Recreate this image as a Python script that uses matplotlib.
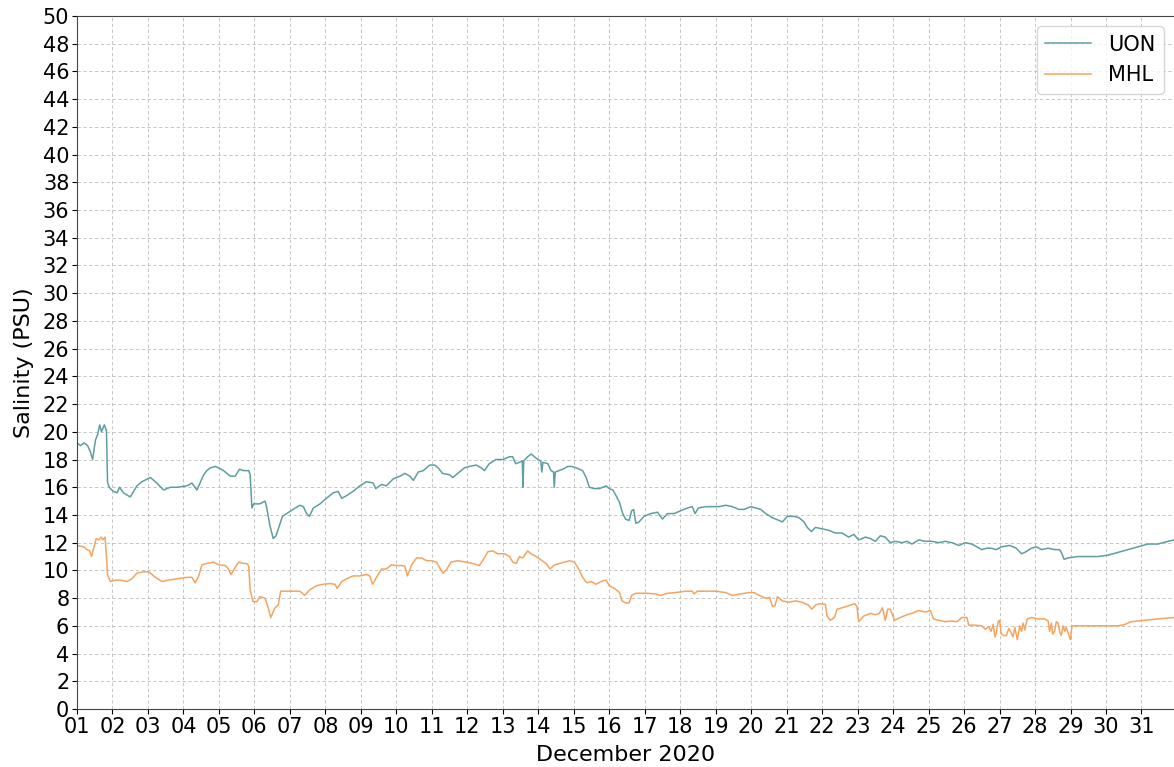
import numpy as np
import pandas as pd
import matplotlib
matplotlib.use('Agg')
import matplotlib.pyplot as plt
import matplotlib.dates as mdates

# Salinity records, time in days since 2020-12-01 00:00
UON_DAYS = [
    0.00, 0.10, 0.20, 0.30, 0.37, 0.44, 0.52, 0.58, 0.64, 0.69, 0.77, 0.83, 0.86, 0.89, 0.94,
    1.03, 1.13, 1.20, 1.31, 1.50, 1.69, 1.83, 2.07, 2.25, 2.44, 2.63, 2.82, 3.10, 3.24, 3.38,
    3.57, 3.66, 3.76, 3.90, 3.99, 4.13, 4.32, 4.46, 4.58, 4.69, 4.84, 4.88, 4.93, 4.98, 5.15,
    5.30, 5.34, 5.44, 5.53, 5.61, 5.70, 5.79, 5.91, 6.09, 6.28, 6.38, 6.47, 6.55, 6.66, 6.85,
    7.03, 7.22, 7.36, 7.46, 7.60, 7.78, 7.97, 8.16, 8.35, 8.42, 8.58, 8.72, 8.91, 9.10, 9.24,
    9.38, 9.48, 9.62, 9.76, 9.94, 10.08, 10.18, 10.30, 10.50, 10.59, 10.73, 10.92, 11.06, 11.25, 11.39,
    11.48, 11.62, 11.81, 12.00, 12.19, 12.28, 12.36, 12.47, 12.55, 12.57, 12.59, 12.70, 12.80, 12.89, 12.99,
    13.07, 13.10, 13.13, 13.27, 13.36, 13.43, 13.45, 13.48, 13.69, 13.83, 13.95, 14.07, 14.25, 14.35, 14.44,
    14.58, 14.72, 14.82, 14.91, 15.00, 15.10, 15.19, 15.29, 15.38, 15.46, 15.56, 15.63, 15.69, 15.75, 15.84,
    15.98, 16.17, 16.36, 16.50, 16.64, 16.83, 17.01, 17.20, 17.34, 17.42, 17.51, 17.72, 17.91, 18.09, 18.28,
    18.47, 18.66, 18.80, 18.99, 19.13, 19.27, 19.41, 19.60, 19.79, 19.88, 20.02, 20.21, 20.35, 20.49, 20.58,
    20.70, 20.81, 21.00, 21.18, 21.37, 21.56, 21.75, 21.89, 22.03, 22.22, 22.36, 22.50, 22.64, 22.78, 22.92,
    23.06, 23.25, 23.39, 23.53, 23.72, 23.91, 24.09, 24.28, 24.47, 24.66, 24.85, 25.03, 25.22, 25.36, 25.50,
    25.64, 25.76, 25.91, 26.05, 26.29, 26.47, 26.62, 26.71, 26.90, 27.04, 27.18, 27.37, 27.55, 27.69, 27.74,
    27.82, 27.93, 28.21, 28.49, 28.77, 29.06, 29.34, 29.62, 29.90, 30.18, 30.46, 30.75, 30.92,
]
UON_PSU = [
    19.2, 19.0, 19.2, 19.0, 18.6, 18.0, 19.4, 19.8, 20.5, 20.0, 20.5, 20.1, 16.4, 16.1, 15.9,
    15.7, 15.6, 16.0, 15.6, 15.3, 16.1, 16.4, 16.7, 16.3, 15.8, 16.0, 16.0, 16.1, 16.3, 15.8,
    16.9, 17.2, 17.4, 17.5, 17.4, 17.2, 16.8, 16.8, 17.3, 17.2, 17.2, 16.9, 14.5, 14.8, 14.8,
    15.0, 14.6, 13.2, 12.3, 12.5, 13.2, 13.9, 14.1, 14.4, 14.7, 14.6, 14.1, 13.9, 14.5, 14.8,
    15.2, 15.6, 15.7, 15.2, 15.4, 15.7, 16.1, 16.4, 16.3, 15.9, 16.2, 16.1, 16.6, 16.8, 17.0,
    16.8, 16.5, 17.1, 17.2, 17.6, 17.6, 17.4, 17.0, 16.9, 16.7, 17.0, 17.4, 17.5, 17.6, 17.4,
    17.2, 17.7, 18.0, 18.0, 18.2, 18.2, 17.7, 17.8, 17.9, 16.0, 17.9, 18.2, 18.4, 18.2, 18.0,
    17.9, 17.1, 17.8, 17.7, 17.2, 17.1, 16.0, 17.1, 17.3, 17.5, 17.5, 17.4, 17.2, 16.7, 16.0,
    15.9, 15.9, 16.0, 16.1, 15.9, 15.8, 15.4, 14.9, 14.1, 13.7, 13.6, 14.3, 14.4, 13.4, 13.5,
    13.9, 14.1, 14.2, 13.7, 14.1, 14.1, 14.3, 14.5, 14.6, 14.1, 14.5, 14.6, 14.6, 14.6, 14.7,
    14.6, 14.4, 14.4, 14.6, 14.5, 14.4, 14.1, 13.8, 13.6, 13.5, 13.9, 13.9, 13.8, 13.5, 13.1,
    12.8, 13.1, 13.0, 12.9, 12.7, 12.7, 12.4, 12.6, 12.2, 12.4, 12.3, 12.1, 12.5, 12.4, 12.0,
    12.1, 12.0, 12.1, 11.9, 12.2, 12.1, 12.1, 12.0, 12.1, 12.0, 11.8, 12.0, 11.9, 11.7, 11.5,
    11.6, 11.6, 11.5, 11.7, 11.8, 11.6, 11.2, 11.3, 11.6, 11.7, 11.5, 11.6, 11.5, 11.5, 11.3,
    10.8, 10.9, 11.0, 11.0, 11.0, 11.1, 11.3, 11.5, 11.7, 11.9, 11.9, 12.1, 12.2,
]

MHL_DAYS = [
    0.00, 0.19, 0.28, 0.36, 0.41, 0.49, 0.54, 0.61, 0.68, 0.73, 0.79, 0.83, 0.86, 0.94, 1.08,
    1.22, 1.41, 1.55, 1.69, 1.88, 2.02, 2.21, 2.39, 2.58, 2.82, 3.10, 3.24, 3.33, 3.43, 3.52,
    3.66, 3.85, 3.99, 4.18, 4.27, 4.34, 4.43, 4.55, 4.69, 4.79, 4.84, 4.88, 4.96, 5.07, 5.15,
    5.30, 5.39, 5.46, 5.58, 5.67, 5.74, 5.91, 6.09, 6.28, 6.42, 6.56, 6.75, 6.94, 7.13, 7.27,
    7.33, 7.46, 7.60, 7.78, 7.97, 8.16, 8.25, 8.33, 8.44, 8.58, 8.72, 8.86, 9.00, 9.15, 9.24,
    9.31, 9.43, 9.57, 9.71, 9.85, 9.99, 10.13, 10.31, 10.40, 10.54, 10.73, 10.97, 11.15, 11.34, 11.48,
    11.58, 11.72, 11.86, 12.05, 12.19, 12.28, 12.38, 12.47, 12.56, 12.70, 12.80, 12.94, 13.08, 13.22, 13.33,
    13.46, 13.60, 13.74, 13.88, 14.02, 14.16, 14.25, 14.37, 14.49, 14.63, 14.77, 14.91, 15.00, 15.15, 15.29,
    15.36, 15.46, 15.56, 15.63, 15.75, 16.03, 16.31, 16.45, 16.64, 16.87, 17.15, 17.34, 17.39, 17.48, 17.72,
    18.00, 18.28, 18.47, 18.70, 18.94, 19.08, 19.22, 19.41, 19.52, 19.60, 19.67, 19.74, 19.88, 20.07, 20.25,
    20.44, 20.61, 20.71, 20.81, 20.95, 21.09, 21.14, 21.23, 21.35, 21.42, 21.56, 21.70, 21.79, 21.92, 21.98,
    22.03, 22.17, 22.36, 22.50, 22.61, 22.70, 22.78, 22.85, 22.92, 23.04, 23.20, 23.39, 23.53, 23.72, 23.91,
    24.05, 24.14, 24.28, 24.47, 24.66, 24.80, 24.94, 25.08, 25.13, 25.31, 25.50, 25.60, 25.69, 25.76, 25.82,
    25.87, 25.91, 25.96, 26.00, 26.05, 26.12, 26.19, 26.26, 26.33, 26.38, 26.43, 26.50, 26.57, 26.62, 26.66,
    26.71, 26.78, 26.90, 27.08, 27.27, 27.37, 27.41, 27.46, 27.50, 27.55, 27.60, 27.65, 27.70, 27.74, 27.79,
    27.84, 27.88, 27.93, 27.97, 28.00, 28.04, 28.21, 28.59, 28.96, 29.34, 29.53, 29.71, 30.09, 30.46, 30.92,
]
MHL_PSU = [
    11.8, 11.7, 11.5, 11.4, 11.0, 11.8, 12.3, 12.2, 12.4, 12.2, 12.4, 11.0, 9.7, 9.2, 9.3,
    9.3, 9.2, 9.4, 9.8, 9.9, 9.9, 9.5, 9.2, 9.3, 9.4, 9.5, 9.5, 9.1, 9.6, 10.4,
    10.5, 10.6, 10.4, 10.35, 10.1, 9.7, 10.1, 10.6, 10.5, 10.5, 10.3, 8.6, 7.75, 7.75, 8.1,
    8.0, 7.3, 6.6, 7.3, 7.5, 8.5, 8.5, 8.5, 8.5, 8.2, 8.6, 8.9, 9.0, 9.05, 9.0,
    8.7, 9.2, 9.4, 9.6, 9.6, 9.7, 9.6, 9.0, 9.5, 10.1, 10.1, 10.4, 10.35, 10.35, 10.3,
    9.6, 10.4, 10.9, 10.9, 10.7, 10.7, 10.6, 9.8, 10.0, 10.6, 10.7, 10.6, 10.5, 10.35, 10.9,
    11.35, 11.4, 11.2, 11.2, 11.0, 10.6, 10.5, 11.0, 10.9, 11.4, 11.2, 11.0, 10.75, 10.5, 10.1,
    10.4, 10.5, 10.6, 10.7, 10.6, 10.0, 9.5, 9.1, 9.2, 9.0, 9.2, 9.3, 8.9, 8.7, 8.4,
    7.8, 7.65, 7.65, 8.2, 8.35, 8.35, 8.3, 8.2, 8.35, 8.4, 8.5, 8.5, 8.3, 8.5, 8.5,
    8.5, 8.4, 8.2, 8.3, 8.4, 8.4, 8.2, 8.0, 8.05, 7.4, 7.45, 8.1, 7.8, 7.7, 7.8,
    7.7, 7.5, 7.2, 7.5, 7.6, 7.55, 6.7, 6.4, 6.6, 7.2, 7.3, 7.4, 7.5, 7.6, 7.4,
    6.3, 6.7, 6.9, 6.8, 6.9, 7.3, 6.4, 7.2, 7.2, 6.4, 6.6, 6.8, 6.9, 7.1, 7.0,
    7.1, 6.5, 6.4, 6.3, 6.35, 6.3, 6.6, 6.6, 6.05, 6.05, 6.0, 5.75, 5.95, 5.6, 6.1,
    5.2, 5.5, 6.3, 6.4, 5.4, 5.3, 5.3, 5.8, 5.5, 5.2, 5.9, 5.0, 6.0, 5.6, 6.2,
    5.7, 6.5, 6.6, 6.5, 6.5, 6.35, 5.6, 6.2, 5.4, 5.6, 6.3, 6.2, 5.5, 5.3, 6.0,
    5.6, 5.9, 5.5, 5.2, 5.0, 6.0, 6.0, 6.0, 6.0, 6.0, 6.1, 6.3, 6.4, 6.5, 6.6,
]

START = pd.Timestamp('2020-12-01')
END = pd.Timestamp('2020-12-31 22:00')

UON_COLOR = 'cadetblue'
MHL_COLOR = 'sandybrown'


def to_times(days):
    return START + pd.to_timedelta(np.asarray(days), unit='D')


def plot_salinity(output_path='out.png'):
    fig = plt.figure(figsize=(11.74, 7.67), dpi=100)
    ax = fig.add_axes([77 / 1174, 1 - 709 / 767, (1174 - 77) / 1174, (709 - 16) / 767])

    ax.plot(to_times(UON_DAYS), UON_PSU, color=UON_COLOR, lw=1.1, label='UON')
    ax.plot(to_times(MHL_DAYS), MHL_PSU, color=MHL_COLOR, lw=1.1, label='MHL')

    ax.set_xlim(START, END)
    ax.set_ylim(0, 50)
    ax.set_yticks(np.arange(0, 51, 2))
    ax.xaxis.set_major_locator(mdates.DayLocator())
    ax.xaxis.set_major_formatter(mdates.DateFormatter('%d'))

    ax.grid(True, ls=(0, (4, 3)), color='#bdbdbd', lw=0.6)
    ax.set_axisbelow(True)
    ax.spines['right'].set_visible(False)
    for side in ('left', 'bottom', 'top'):
        ax.spines[side].set_color('#444444')

    ax.tick_params(labelsize=15, pad=2)
    ax.set_xlabel('December 2020', fontsize=16, labelpad=6)
    ax.set_ylabel('Salinity (PSU)', fontsize=16, labelpad=6)

    ax.legend(loc='upper right', fontsize=15, handlelength=2.2)

    fig.savefig(output_path, dpi=100)


if __name__ == '__main__':
    plot_salinity()
